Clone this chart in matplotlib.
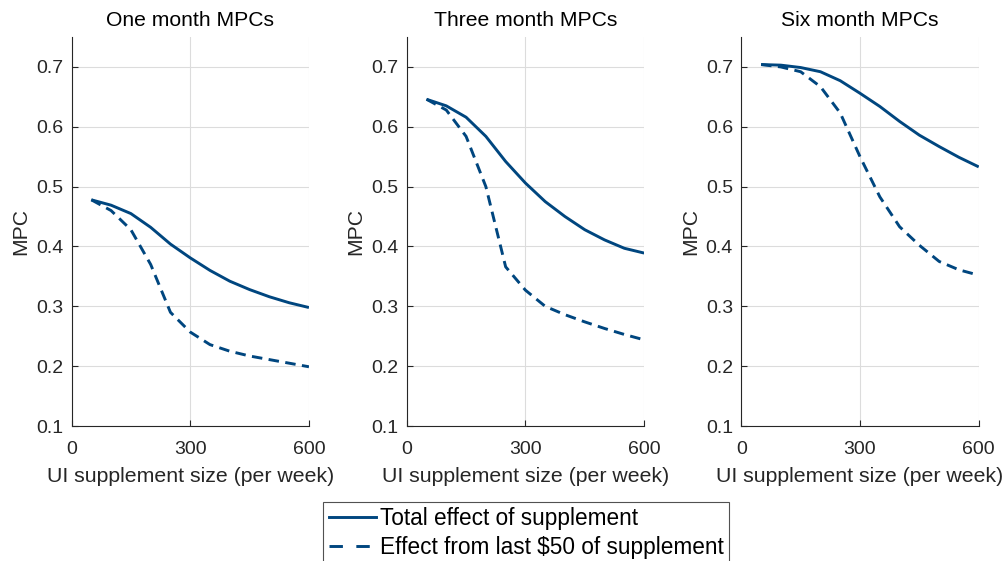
import matplotlib
matplotlib.use("Agg")
import matplotlib.pyplot as plt
from matplotlib.lines import Line2D

plt.rcParams['font.family'] = ['Liberation Sans', 'DejaVu Sans']

supplement = [50, 100, 150, 200, 250, 300, 350, 400, 450, 500, 550, 600]

titles = ["One month MPCs", "Three month MPCs", "Six month MPCs"]

total_one = [0.478, 0.469, 0.455, 0.432, 0.404, 0.381, 0.360, 0.342, 0.328, 0.316, 0.306, 0.298]
last50_one = [0.478, 0.460, 0.428, 0.370, 0.290, 0.257, 0.236, 0.225, 0.217, 0.211, 0.205, 0.199]

total_three = [0.646, 0.635, 0.616, 0.584, 0.542, 0.506, 0.475, 0.450, 0.428, 0.411, 0.397, 0.389]
last50_three = [0.646, 0.628, 0.584, 0.500, 0.366, 0.327, 0.300, 0.286, 0.274, 0.263, 0.253, 0.244]

total_six = [0.704, 0.703, 0.699, 0.692, 0.677, 0.656, 0.634, 0.609, 0.586, 0.567, 0.549, 0.533]
last50_six = [0.704, 0.700, 0.692, 0.667, 0.623, 0.550, 0.483, 0.433, 0.402, 0.375, 0.361, 0.352]

totals = [total_one, total_three, total_six]
lasts = [last50_one, last50_three, last50_six]

legend_labels = ["Total effect of supplement", "Effect from last $50 of supplement"]
xticks = [0, 300, 600]
yticks = [0.1, 0.2, 0.3, 0.4, 0.5, 0.6, 0.7]

color = "#00467f"
axis_color = "#262626"
dash = (0, (3.6, 2.2))
legend_dash = (0, (4.6, 4.6))

fig = plt.figure(figsize=(10.06, 5.61), dpi=100)
lefts = [0.0711, 0.4043, 0.7369]
width = 0.236
bottom = 0.2406
height = 0.934 - 0.2406

for i in range(3):
    ax = fig.add_axes([lefts[i], bottom, width, height])
    ax.plot(supplement, totals[i], color=color, lw=2.1, solid_capstyle='butt')
    ax.plot(supplement, lasts[i], color=color, lw=2.1, linestyle=dash)
    ax.set_xlim(0, 600)
    ax.set_ylim(0.1, 0.75)
    ax.set_xticks(xticks)
    ax.set_yticks(yticks)
    ax.set_xticklabels([str(t) for t in xticks])
    ax.set_yticklabels([f"{t:.1f}" for t in yticks])
    ax.grid(True, color="#dcdcdc", lw=0.8)
    ax.set_axisbelow(True)
    for s in ["top", "right"]:
        ax.spines[s].set_visible(False)
    for s in ["left", "bottom"]:
        ax.spines[s].set_color(axis_color)
        ax.spines[s].set_linewidth(0.8)
    ax.tick_params(direction='in', length=4, width=0.8, colors=axis_color,
                   labelsize=14)
    ax.tick_params(axis='x', pad=10.5)
    ax.tick_params(axis='y', pad=6)
    ax.set_title(titles[i], fontsize=15.2, color='black', pad=8)
    ax.set_ylabel("MPC", fontsize=15.2, color=axis_color, labelpad=4)
    ax.set_xlabel("UI supplement size (per week)", fontsize=15.3, color=axis_color, labelpad=7)

handles = [Line2D([], [], color=color, lw=2.1),
           Line2D([], [], color=color, lw=2.1, linestyle=legend_dash)]
leg = fig.legend(handles, legend_labels, loc='upper center',
                 bbox_to_anchor=(0.523, 0.1057), fontsize=16.3, frameon=True,
                 fancybox=False, edgecolor=axis_color, handlelength=2.1,
                 handletextpad=0.16, borderpad=0.25, labelspacing=0.25,
                 borderaxespad=0)
leg.get_frame().set_linewidth(0.8)

fig.savefig("out.png", dpi=100)
